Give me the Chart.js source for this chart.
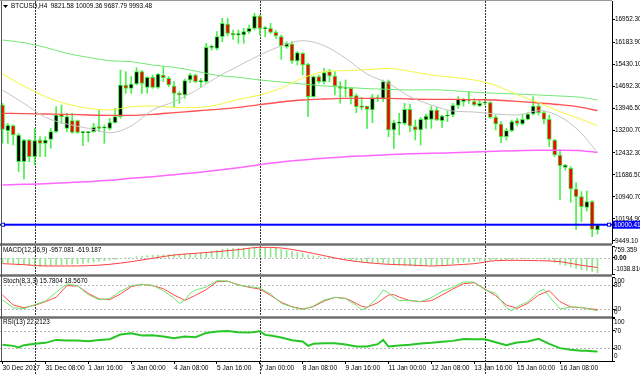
<!DOCTYPE html>
<html>
<head>
<meta charset="utf-8">
<script src="https://cdn.jsdelivr.net/npm/chart.js@4.4.1/dist/chart.umd.min.js"></script>
<style>
html, body { margin: 0; padding: 0; background: #fff; overflow: hidden; }
#wrap { position: relative; width: 640px; height: 375px; background: #fff; }
canvas { position: absolute; left: 0; }
.sep { position: absolute; left: 0; width: 612px; height: 3px; background: linear-gradient(#a8a8a8, #6c6c6c, #a8a8a8); }
.frame { position: absolute; background: #555; }
</style>
</head>
<body>
<div id="wrap">
  <canvas id="cMain" width="640" height="262" style="top:-9px"></canvas>
  <canvas id="cMacd" width="640" height="48" style="top:236px"></canvas>
  <canvas id="cStoch" width="640" height="60" style="top:267px"></canvas>
  <canvas id="cRsi" width="640" height="67" style="top:308px"></canvas>
  <div class="sep" style="top:243px"></div>
  <div class="sep" style="top:274px"></div>
  <div class="sep" style="top:316px"></div>
  <div class="frame" style="left:1px;top:0;width:1px;height:361px"></div>
  <div class="frame" style="left:0;top:0;width:612px;height:1px;background:#999"></div>
</div>
<script>
// ---- data (BTCUSD H4, 30 Dec 2017 00:00 -> 17 Jan 2018 12:00, 112 bars) ----
const open = [14052,13183,13352,12134,12134,12867,12303,12867,12755,12890,13149,13736,13262,13522,13522,13116,13116,13149,13319,13274,
  13262,13454,13657,14729,14616,14762,15180,14650,14988,14650,15067,14954,14695,14447,14390,14898,15067,14841,14841,16003,
  15970,16364,16793,16477,16432,16421,16534,16646,17064,16635,16646,16511,16364,16026,16116,15541,15800,15428,14334,15011,
  14841,15180,15033,14695,14616,14616,14368,14018,14018,13883,14300,14278,14841,13206,13431,13431,13905,13319,13206,13544,
  13567,13883,13522,13680,13713,14041,14165,14210,14165,14018,14120,14131,13635,13409,12980,13183,13522,13409,13567,13747,
  14018,13792,13567,12867,12360,11943,11909,11209,10950,10589,10781,9821.58];
const high = [14108,13431,13375,13093,12890,12890,13262,12980,12980,13262,13995,14052,13770,13770,13545,13149,13149,13431,13883,13375,
  13601,13939,15236,15180,15011,15315,15214,15011,15067,15123,15349,15011,14841,14503,14932,15123,15101,14954,16139,16082,
  16534,16985,16985,16590,16590,16646,16759,17154,17098,16703,16816,16567,16421,16195,16195,15857,15823,15462,15033,15067,
  15293,15259,15180,14841,14898,14650,14424,14311,14018,14413,14390,14898,14898,13544,13770,14108,14086,13544,13635,13747,
  14018,13973,13713,13860,14108,14334,14278,14503,14266,14244,14266,14165,13713,13488,13262,13544,13601,13747,13792,14334,
  14108,13860,13713,12890,12529,12044,11965,11424,11119,11141,10814,10009.36];
const low = [12755,12755,12698,11796,11548,12134,12021,12303,12303,12585,13116,13431,13149,13093,13093,12676,12811,13127,13149,12755,
  13206,13431,13601,14447,14447,14729,14447,14447,14616,14616,14841,14672,13973,14108,14278,14808,14808,14650,14785,15913,
  15913,16195,16387,16274,16139,16139,16477,16590,16421,16364,16477,16308,15597,15970,15462,15405,15067,13657,14311,14785,
  14762,14841,14390,14108,14334,14086,13792,13883,13262,13454,14165,14165,12980,12585,13037,13375,13149,12867,12698,13262,
  13262,13522,13296,13488,13657,13939,14018,14108,14018,13995,14052,13601,13206,12777,12867,13149,13341,13375,13544,13713,
  13713,13409,12642,12303,10837,11852,10758,9844,10104,10465,9596,9687.79];
const close = [13228,13364,13037,13037,12867,12303,12845,12755,12867,13149,13713,13657,13657,13127,13127,13138,13138,13296,13262,13296,
  13454,13657,14729,14616,14762,15180,14785,14988,14650,15101,14977,14729,14447,14390,14875,15067,14841,14864,16003,16026,
  16364,16816,16477,16421,16455,16534,16646,17064,16646,16658,16511,16387,16048,16139,15541,15823,15405,14334,15011,14841,
  15146,15033,14695,14616,14650,14334,13995,13973,13905,14300,14266,14841,13206,13454,13477,13905,13341,13206,13567,13680,
  13883,13544,13680,13713,14041,14244,14244,14232,14052,14108,14142,13635,13409,12980,13183,13488,13431,13567,13747,14018,
  13792,13567,12890,12360,11999,12021,11209,10950,10612,10781,9844,9993.48];

// moving averages, read every 4 bars
const maIdx = [0,4,8,12,16,20,24,28,32,36,40,44,48,52,56,60,64,68,72,76,80,84,88,92,96,100,104,108,111];
const maGray = [14559,14108,13634,13409,13262,13116,13341,13883,14165,14537,14988,15372,15744,16048,16229,16060,15631,15101,14785,14334,14052,13849,13815,13747,13713,13860,13657,13093,12439];
const maYellow = [15101,14695,14334,14086,13939,13883,13995,14018,13973,13962,14052,14244,14390,14627,14966,15180,15214,15247,15293,15191,15067,14988,14898,14717,14402,14131,13826,13567,13352];
const maGreen = [16251,16161,16003,15800,15665,15552,15518,15405,15327,15202,15056,14988,14898,14830,14762,14695,14650,14605,14582,14559,14571,14537,14481,14447,14424,14390,14356,14311,14221];
const maRed = [13770,13759,13747,13736,13713,13702,13702,13736,13792,13849,13905,13973,14063,14153,14221,14255,14278,14278,14278,14255,14244,14244,14232,14221,14176,14120,14063,13973,13860];
const maMagenta = [11345,11367,11390,11424,11457,11502,11570,11627,11694,11762,11841,11931,12033,12123,12191,12247,12303,12337,12371,12405,12417,12439,12461,12484,12507,12518,12518,12507,12450];

// MACD(12,26,9): main (histogram) per bar, signal every 4 bars
const macdMain = [-332,-332,-353,-375,-417,-503,-546,-546,-525,-503,-460,-439,-417,-396,-375,-353,-310,-268,-225,-182,
  -139,-96,-54,-11,32,75,118,139,161,182,203,203,225,225,246,268,289,310,353,417,
  482,546,589,589,610,610,610,632,653,653,632,610,546,482,417,332,268,182,139,96,
  54,11,-32,-75,-118,-161,-203,-246,-289,-289,-332,-332,-417,-460,-482,-503,-503,-525,-525,-503,
  -503,-482,-482,-439,-375,-332,-289,-268,-225,-203,-182,-161,-139,-118,-118,-96,-75,-54,-54,-32,
  -32,-75,-161,-289,-417,-503,-589,-674,-760,-803,-889,-957.081];
const macdSignal = [-375,-439,-525,-525,-503,-417,-246,-32,182,289,396,525,674,632,417,139,-139,-310,-417,-460,-525,-460,-375,-182,-161,-182,-246,-482,-619.187];

// Stochastic(8,3,3)
const stochMainIdx = [0,2,4,6,8,10,12,14,16,18,20,22,24,26,28,30,32,33,34,35,36,38,40,42,44,46,48,50,52,54,56,58,60,62,64,66,67,68,70,71,72,73,74,76,78,80,82,84,86,88,90,92,94,95,96,98,100,101,102,104,106,108,110,111];
const stochMain = [42.5,23.3,20.8,30.8,40,61.7,82.5,78.3,55.8,43.3,45.8,64.2,78.3,81.7,79.2,65.8,46.7,34.2,42.5,59.2,67.5,75,90.8,90,79.2,75.8,72.5,57.5,34.2,25,18.3,27.5,42.5,49.2,45.8,30,17.5,23.3,49.2,67.5,60.8,49.2,40.8,41.7,38.3,48.3,64.2,74.2,87.5,87.5,67.5,59.2,23.3,15.8,25.8,38.3,63.3,69.2,50.8,20,25,24.2,18.3,15.7804];
const stochSigIdx = [0,2,4,6,8,10,12,14,16,18,20,22,24,26,28,30,32,34,36,38,40,42,44,46,48,50,52,54,56,58,60,62,64,66,67,68,70,72,73,74,76,78,80,82,84,86,88,90,92,94,96,98,100,102,104,106,108,110,111];
const stochSig = [55,30,23.3,29.2,38.3,49.2,78.3,77.5,59.2,45,43.3,57.5,75.8,81.7,78.3,70.8,55,41.7,54.2,68.3,88.3,89.2,80.8,74.2,70,54.2,36.7,25.8,20,25.8,40,49.2,46.7,34.2,26.7,24.2,35.8,55,55.8,50,40.8,38.3,40.8,55,70,83.3,85.8,70,53.3,30,21.7,34.2,55,65.8,38.3,25,23.3,20,18.567];

// RSI(13)
const rsiIdx = [0,2,3,4,6,8,10,12,14,16,18,20,22,24,26,28,30,32,34,36,38,40,42,44,46,48,49,50,52,54,56,57,58,60,62,64,66,68,70,71,72,74,76,78,80,82,84,86,88,90,92,94,95,96,98,100,102,104,106,108,109,110,111];
const rsi = [37.6,35.2,31.4,36.8,39.9,42.2,49.1,47.6,47.6,46.0,49.1,50.6,61.4,64.5,59.1,59.9,56.8,53.0,56.8,55.3,65.3,68.4,69.9,66.8,66.0,69.1,60.7,59.1,54.5,48.3,45.3,35.2,39.9,41.4,41.4,38.3,33.7,33.7,39.1,49.1,33.7,36.0,37.6,40.6,42.2,44.5,46.8,51.4,50.6,50.6,43.7,36.8,39.9,42.9,45.3,51.4,39.9,29.9,26.0,23.7,23.7,22.9,22.2123];

// axes
const xTickIdx = [0,8,16,24,32,40,48,56,64,72,80,88,96,104];
const xTickText = ['30 Dec 2017','31 Dec 08:00','1 Jan 16:00','3 Jan 00:00','4 Jan 08:00','5 Jan 16:00','7 Jan 00:00',
  '8 Jan 08:00','9 Jan 16:00','11 Jan 00:00','12 Jan 08:00','13 Jan 16:00','15 Jan 00:00','16 Jan 08:00'];
const weekSep = [6, 48, 90];
const priceTicks = [16952.30,16183.90,15430.10,14692.30,13946.50,13200.70,12432.30,11686.50,10940.70,10194.90,9449.10];
const hLine = 10000.41;
const macdTicks = [759.359, 0, -1038.816];
const macdTickText = ['759.359', '0.00', '-1038.816'];
const stochTicks = [100, 80, 20, 0];
const rsiTicks = [100, 70, 30, 0];

// ---- drawing ----
const X_MIN = -0.47, X_MAX = 113.7;
const FONT = "'Liberation Sans', Arial, sans-serif";
const FS = 6.4;
Chart.defaults.font.family = FONT;
Chart.defaults.font.size = FS;
Chart.defaults.color = '#000';
Chart.defaults.animation = false;
Chart.defaults.plugins.legend.display = false;
Chart.defaults.plugins.tooltip.enabled = false;

const pts = (xs, ys) => xs.map((x, k) => ({ x: x, y: ys[k] }));

function xScale(show) {
  return {
    type: 'linear', min: X_MIN, max: X_MAX, offset: false, display: show,
    afterBuildTicks: s => { s.ticks = xTickIdx.map(v => ({ value: v })); },
    afterFit: s => { if (show) s.height = 14; },
    ticks: { callback: (v, i) => xTickText[i], align: 'start', maxRotation: 0, autoSkip: false, padding: 0, font: { size: 6.6 } },
    grid: { drawOnChartArea: false, drawTicks: true, tickLength: 3, color: '#000', offset: false },
    border: { display: true, color: '#000' }
  };
}

function yScale(min, max, ticks, showLabels) {
  return {
    position: 'right', min: min, max: max,
    afterBuildTicks: s => { s.ticks = ticks.map(v => ({ value: v })); },
    afterFit: s => { s.width = 28; },
    ticks: { display: showLabels, padding: 0, callback: v => v.toFixed(2) },
    grid: { drawOnChartArea: false, drawTicks: true, tickLength: 3, color: '#000' },
    border: { display: true, color: '#000' }
  };
}

const mt4 = {
  id: 'mt4',
  beforeDatasetsDraw(chart, args, o) {
    const { ctx, chartArea: a, scales } = chart;
    ctx.save();
    ctx.lineWidth = 1;
    (o.levels || []).forEach(v => {
      const py = Math.round(scales.y.getPixelForValue(v)) + 0.5;
      ctx.strokeStyle = '#b8b8b8';
      ctx.setLineDash([2, 2]);
      ctx.beginPath(); ctx.moveTo(a.left, py); ctx.lineTo(a.right, py); ctx.stroke();
    });
    ctx.strokeStyle = '#333';
    ctx.setLineDash([2, 1]);
    weekSep.forEach(i => {
      const px = Math.round(scales.x.getPixelForValue(i)) + 0.5;
      ctx.beginPath(); ctx.moveTo(px, a.top); ctx.lineTo(px, o.toBottom ? chart.height : a.bottom); ctx.stroke();
    });
    ctx.restore();
  },
  afterDatasetsDraw(chart, args, o) {
    if (o.hline == null) return;
    const { ctx, chartArea: a, scales } = chart;
    const py = scales.y.getPixelForValue(o.hline);
    ctx.save();
    ctx.fillStyle = '#0000ff';
    ctx.fillRect(a.left, py - 1, a.right - a.left, 2);
    ctx.strokeStyle = '#0000ff';
    ctx.fillStyle = '#fff';
    [a.left + 3, a.right - 3].forEach(px => {
      ctx.fillRect(px - 1.5, py - 1.5, 3, 3);
      ctx.strokeRect(px - 1.5, py - 1.5, 3, 3);
    });
    ctx.restore();
  },
  afterDraw(chart, args, o) {
    const { ctx, chartArea: a, scales } = chart;
    ctx.save();
    ctx.font = FS + 'px ' + FONT;
    ctx.fillStyle = '#000';
    ctx.textBaseline = 'middle';
    if (o.title) {
      let tx = a.left + 3;
      if (o.arrow) {
        ctx.beginPath(); ctx.moveTo(a.left + 3, a.top + 4); ctx.lineTo(a.left + 8, a.top + 4); ctx.lineTo(a.left + 5.5, a.top + 7); ctx.fill();
        tx = a.left + 11;
      }
      ctx.fillText(o.title, tx, a.top + (o.arrow ? 5.5 : 4.5));
    }
    if (o.axisTicks) {
      const y = scales.y;
      o.axisTicks.forEach((v, k) => {
        let py = y.getPixelForValue(v);
        if (v === y.max) py += 4; else if (v === y.min) py -= 4.5; else py += 0.5;
        ctx.font = (v === 0 && o.boldZero ? 'bold ' : '') + FS + 'px ' + FONT;
        ctx.fillText(o.axisText ? o.axisText[k] : String(v), a.right + 2, py);
      });
    }
    if (o.hline != null) {
      const py = scales.y.getPixelForValue(o.hline);
      ctx.fillStyle = '#0000ff';
      ctx.fillRect(a.right + 1, py - 4, 28, 8);
      ctx.fillStyle = '#fff';
      ctx.fillText(o.hline.toFixed(2), a.right + 2, py + 0.5);
    }
    ctx.restore();
  }
};

// main price chart
new Chart(document.getElementById('cMain'), {
  type: 'bar',
  data: {
    datasets: [
      { type: 'line', data: pts(maIdx, maGray), borderColor: '#c4c4c4', borderWidth: 1, pointRadius: 0, cubicInterpolationMode: 'monotone' },
      { type: 'line', data: pts(maIdx, maYellow), borderColor: '#f4f43c', borderWidth: 1, pointRadius: 0, cubicInterpolationMode: 'monotone' },
      { type: 'line', data: pts(maIdx, maGreen), borderColor: '#74e874', borderWidth: 1, pointRadius: 0, cubicInterpolationMode: 'monotone' },
      { type: 'line', data: pts(maIdx, maRed), borderColor: '#ff5050', borderWidth: 1.3, pointRadius: 0, cubicInterpolationMode: 'monotone' },
      { type: 'line', data: pts(maIdx, maMagenta), borderColor: '#ff66ff', borderWidth: 1.5, pointRadius: 0, cubicInterpolationMode: 'monotone' },
      {
        data: open.map((o, i) => ({ x: i, y: [Math.min(o, close[i]), Math.max(o, close[i])] })),
        backgroundColor: open.map((o, i) => close[i] >= o ? '#000' : '#ff0000'),
        borderColor: '#3cec3c', borderWidth: 1, borderSkipped: false, barThickness: 4, minBarLength: 1, grouped: false
      },
      {
        data: high.map((h, i) => ({ x: i, y: [low[i], h] })),
        backgroundColor: '#4cee4c', borderWidth: 0, barThickness: 1, grouped: false
      }
    ]
  },
  options: {
    responsive: false,
    layout: { padding: { top: 10, bottom: 10, left: 0, right: 0 } },
    scales: { x: xScale(false), y: yScale(9381.4, 17571.6, priceTicks, true) },
    plugins: { mt4: { title: 'BTCUSD,H4  9821.58 10009.36 9687.79 9993.48', arrow: true, hline: hLine } }
  },
  plugins: [mt4]
});

// MACD
new Chart(document.getElementById('cMacd'), {
  type: 'bar',
  data: {
    datasets: [
      { type: 'line', data: pts(maIdx, macdSignal), borderColor: '#ff4040', borderWidth: 1, pointRadius: 0, cubicInterpolationMode: 'monotone' },
      { data: macdMain.map((v, i) => ({ x: i, y: v })), backgroundColor: '#8ee68e', barThickness: 1, grouped: false }
    ]
  },
  options: {
    responsive: false,
    layout: { padding: { top: 10, bottom: 10, left: 0, right: 0 } },
    scales: { x: xScale(false), y: yScale(-1038.816, 759.359, macdTicks, false) },
    plugins: { mt4: { title: 'MACD(12,26,9) -957.081 -619.187', levels: [0], axisTicks: macdTicks, axisText: macdTickText, boldZero: true } }
  },
  plugins: [mt4]
});

// Stochastic
new Chart(document.getElementById('cStoch'), {
  type: 'line',
  data: {
    datasets: [
      { data: pts(stochMainIdx, stochMain), borderColor: '#6ee46e', borderWidth: 1, pointRadius: 0 },
      { data: pts(stochSigIdx, stochSig), borderColor: '#ff4a4a', borderWidth: 1, pointRadius: 0 }
    ]
  },
  options: {
    responsive: false,
    layout: { padding: { top: 10, bottom: 10, left: 0, right: 0 } },
    scales: { x: xScale(false), y: yScale(0, 100, stochTicks, false) },
    plugins: { mt4: { title: 'Stoch(8,3,3) 15.7804 18.5670', levels: [80, 20], axisTicks: stochTicks } }
  },
  plugins: [mt4]
});

// RSI
new Chart(document.getElementById('cRsi'), {
  type: 'line',
  data: {
    datasets: [
      { data: pts(rsiIdx, rsi), borderColor: '#26c626', borderWidth: 2, pointRadius: 0 }
    ]
  },
  options: {
    responsive: false,
    layout: { padding: { top: 10, bottom: 0, left: 0, right: 0 } },
    scales: { x: xScale(true), y: yScale(0, 100, rsiTicks, false) },
    plugins: { mt4: { title: 'RSI(13) 22.2123', levels: [70, 30], axisTicks: rsiTicks, toBottom: true } }
  },
  plugins: [mt4]
});
</script>
</body>
</html>
